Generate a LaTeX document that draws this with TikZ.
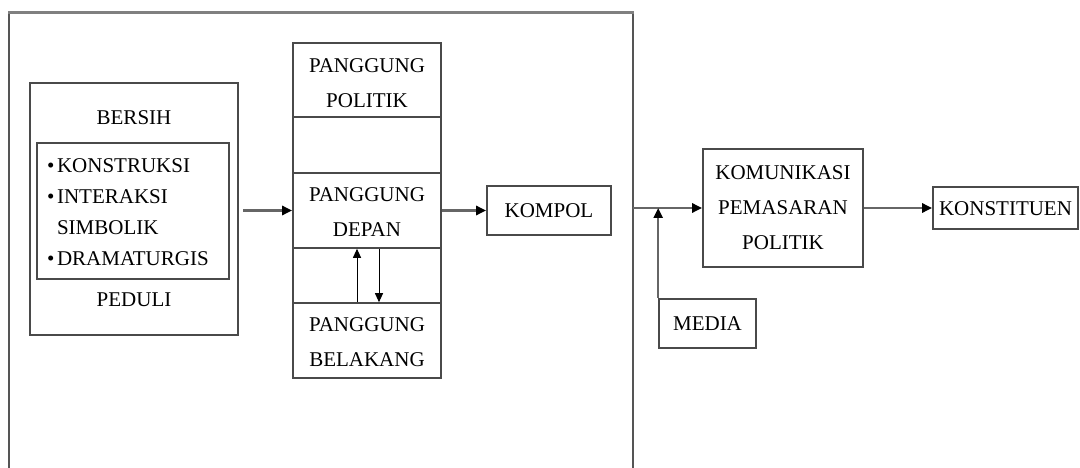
\documentclass[tikz,border=0pt]{standalone}
\usepackage{fontspec}
\setmainfont{Liberation Serif}
\usetikzlibrary{arrows.meta,shadows}
\definecolor{edge}{HTML}{4A4A4A}
\definecolor{wire}{HTML}{666666}
\definecolor{framegray}{HTML}{555555}
\newcommand{\itembullet}{\textbullet\kern2.5pt}
\tikzset{
  box/.style={draw=edge, line width=1.6pt, fill=white, inner sep=0pt,
    drop shadow={shadow xshift=1pt, shadow yshift=-1.2pt, opacity=0.35, fill=gray}},
  cell/.style={draw=edge, line width=1.6pt, fill=white, inner sep=0pt, minimum width=148pt},
  label/.style={font=\fontsize{21}{35}\selectfont, align=center, inner sep=0pt, text=black},
  flow/.style={draw=wire, line width=2.5pt, -{Triangle[length=10pt,width=9pt,fill=black,color=black]}},
  swap/.style={draw=black, line width=1pt, -{Triangle[length=9pt,width=8pt]}}
}
\begin{document}
\begin{tikzpicture}[x=1pt,y=-1pt]
\useasboundingbox (0,0) rectangle (1080,468);

% open frame around the stage model
\draw[framegray, line width=1.4pt] (9,468) -- (9,13);
\draw[framegray, line width=1.4pt] (633,13) -- (633,468);
\draw[gray, line width=3pt] (8,13) -- (634,13);

% values and concepts
\node[box, minimum width=208pt, minimum height=252pt] (values) at (134,209) {};
\node[label] (bersih) at (134,118) {BERSIH};
\node[draw=edge, line width=1.6pt, minimum width=192pt, minimum height=136pt, inner sep=0pt] (concepts) at (133,211) {};
\node[label, align=left, anchor=west, font=\fontsize{21}{31}\selectfont] (list) at (47,212)
  {\itembullet KONSTRUKSI\\\itembullet INTERAKSI\\\hphantom{\itembullet}SIMBOLIK\\\itembullet DRAMATURGIS};
\node[label] (peduli) at (134,300) {PEDULI};

% political stage column
\node[cell, minimum height=74pt] (politik) at (367,80) {};
\node[cell, minimum height=56pt] (gapA) at (367,145) {};
\node[cell, minimum height=75pt] (depan) at (367,210.5) {};
\node[cell, minimum height=55pt] (gapB) at (367,275.5) {};
\node[cell, minimum height=75pt] (belakang) at (367,340.5) {};
\node[label] (tpolitik) at (367,83) {PANGGUNG\\POLITIK};
\node[label] (tdepan) at (367,212) {PANGGUNG\\DEPAN};
\node[label] (tbelakang) at (367,342) {PANGGUNG\\BELAKANG};

\node[box, minimum width=124pt, minimum height=49pt] (kompol) at (549,210.5) {};
\node[label] (tkompol) at (549,211) {KOMPOL};

% marketing side
\node[box, minimum width=160pt, minimum height=118pt] (kom) at (783,208) {};
\node[label] (tkom) at (783,208) {KOMUNIKASI\\PEMASARAN\\POLITIK};
\node[box, minimum width=97pt, minimum height=49pt] (media) at (707.5,323.5) {};
\node[label] (tmedia) at (707.5,324) {MEDIA};
\node[box, minimum width=145pt, minimum height=42pt] (konst) at (1005.5,208) {};
\node[label] (tkonst) at (1005.5,209) {KONSTITUEN};

% connectors
\coordinate (inflow) at (243,210.5);
\draw[flow] (inflow) -- (depan.west);
\draw[flow] (depan.east) -- (kompol.west);
\draw[swap] ([xshift=-10pt]belakang.north) -- ([xshift=-10pt]depan.south);
\draw[swap] ([xshift=12pt]depan.south) -- ([xshift=12pt]belakang.north);
\coordinate (framejoin) at (633,208);
\draw[flow] (framejoin) -- (kom.west);
\draw[flow] (media.north west) -- (media.north west |- kom.west);
\draw[flow] (kom.east) -- (konst.west);
\end{tikzpicture}
\end{document}
